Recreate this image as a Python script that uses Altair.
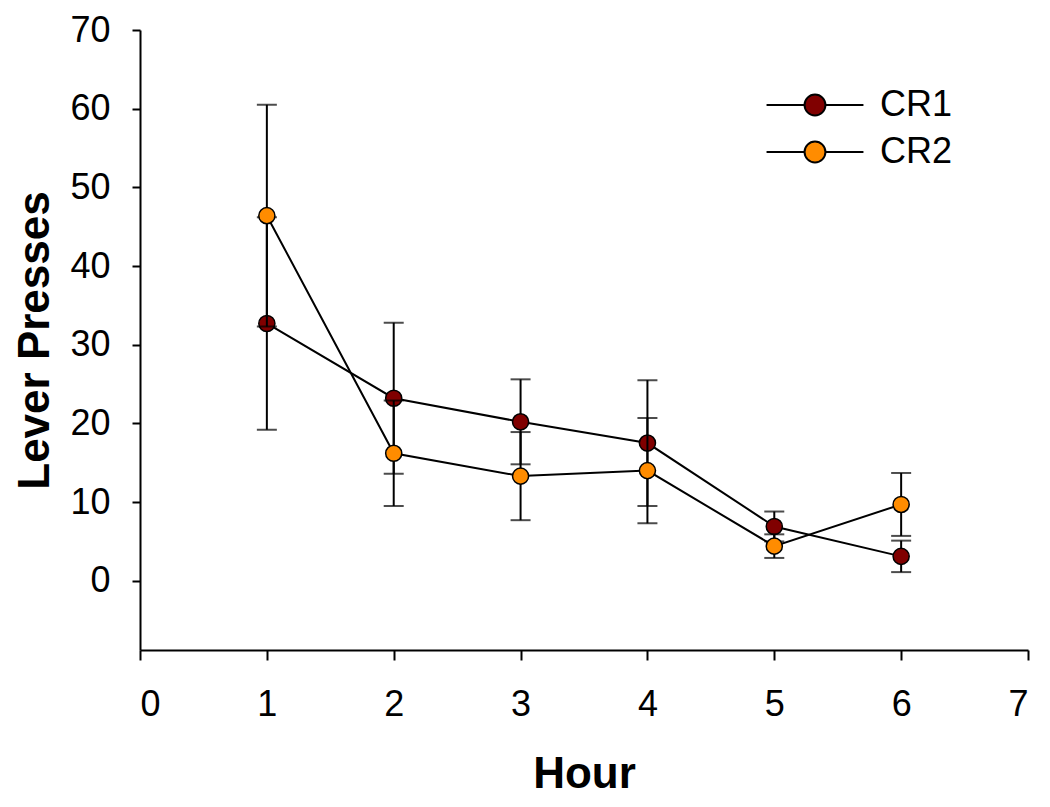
import altair as alt
import pandas as pd

hours = [1, 2, 3, 4, 5, 6]
series_names = ["CR1", "CR2"]
cr1_mean = [32.7, 23.2, 20.2, 17.5, 6.9, 3.1]
cr1_err = [13.5, 9.6, 5.4, 8.0, 1.9, 2.0]
cr2_mean = [46.4, 16.2, 13.3, 14.0, 4.4, 9.7]
cr2_err = [14.1, 6.7, 5.6, 6.7, 1.5, 4.0]
series_colors = ["#800000", "#FF8C00"]
x_ticks = [0, 1, 2, 3, 4, 5, 6, 7]
y_ticks = [0, 10, 20, 30, 40, 50, 60, 70]

rows = []
for name, means, errs in [("CR1", cr1_mean, cr1_err), ("CR2", cr2_mean, cr2_err)]:
    for h, m, e in zip(hours, means, errs):
        rows.append({"Hour": h, "Series": name, "mean": m, "lo": m - e, "hi": m + e})
df = pd.DataFrame(rows)

FONT = "Liberation Sans"

xscale = alt.Scale(domain=[0, 7], nice=False, zero=False)
yscale = alt.Scale(domain=[-8.8, 70], nice=False, zero=False)

x_enc = alt.X("Hour:Q", scale=xscale,
              axis=alt.Axis(values=x_ticks, title="Hour", format="d"))
y_enc = alt.Y("mean:Q", scale=yscale,
              axis=alt.Axis(values=y_ticks, title="Lever Presses", format="d"))

legend_path = ("M -2.55 0 L -0.55 0 M 0.55 0 L 2.55 0 "
               "M -0.55 0 A 0.55 0.55 0 1 0 0.55 0 A 0.55 0.55 0 1 0 -0.55 0 Z")

layers = []
for name in series_names:
    sub = alt.Chart(df).transform_filter(alt.datum.Series == name)
    rule = sub.mark_rule(color="black", strokeWidth=2).encode(
        x=x_enc, y=alt.Y("lo:Q", scale=yscale), y2="hi:Q")
    cap_lo = sub.mark_tick(color="black", size=20, thickness=2,
                           orient="horizontal").encode(
        x=x_enc, y=alt.Y("lo:Q", scale=yscale))
    cap_hi = sub.mark_tick(color="black", size=20, thickness=2,
                           orient="horizontal").encode(
        x=x_enc, y=alt.Y("hi:Q", scale=yscale))
    line = sub.mark_line(color="black", strokeWidth=2).encode(x=x_enc, y=y_enc)
    pts = sub.mark_point(filled=True, size=260, stroke="black", strokeWidth=1.5,
                         opacity=1).encode(
        x=x_enc, y=y_enc,
        fill=alt.Fill("Series:N",
                      scale=alt.Scale(domain=series_names, range=series_colors),
                      legend=alt.Legend(title=None, orient="none",
                                        legendX=655, legendY=55,
                                        symbolType=legend_path, symbolSize=1444,
                                        symbolStrokeColor="black",
                                        symbolStrokeWidth=2,
                                        labelFont=FONT, labelFontSize=36,
                                        labelColor="black",
                                        labelOffset=45, rowPadding=9)))
    layers += [rule, cap_lo, cap_hi, line, pts]

chart = alt.layer(*layers).properties(
    width=888, height=620,
    autosize=alt.AutoSizeParams(type="none"),
    padding={"left": 132, "top": 22, "right": 14, "bottom": 150},
    background="white",
).configure_view(stroke=None).configure_axis(
    domainColor="black", domainWidth=2, tickColor="black", tickWidth=2,
    labelFont=FONT, labelFontSize=36, labelColor="black",
    titleFont=FONT, titleFontSize=44, titleFontWeight="bold", titleColor="black",
    grid=False,
).configure_axisY(
    tickSize=8, labelPadding=22, titlePadding=12,
).configure_axisX(
    tickSize=10, labelPadding=27, titlePadding=30,
)

chart.save("out.html", embed_options={"renderer": "svg", "actions": False})
